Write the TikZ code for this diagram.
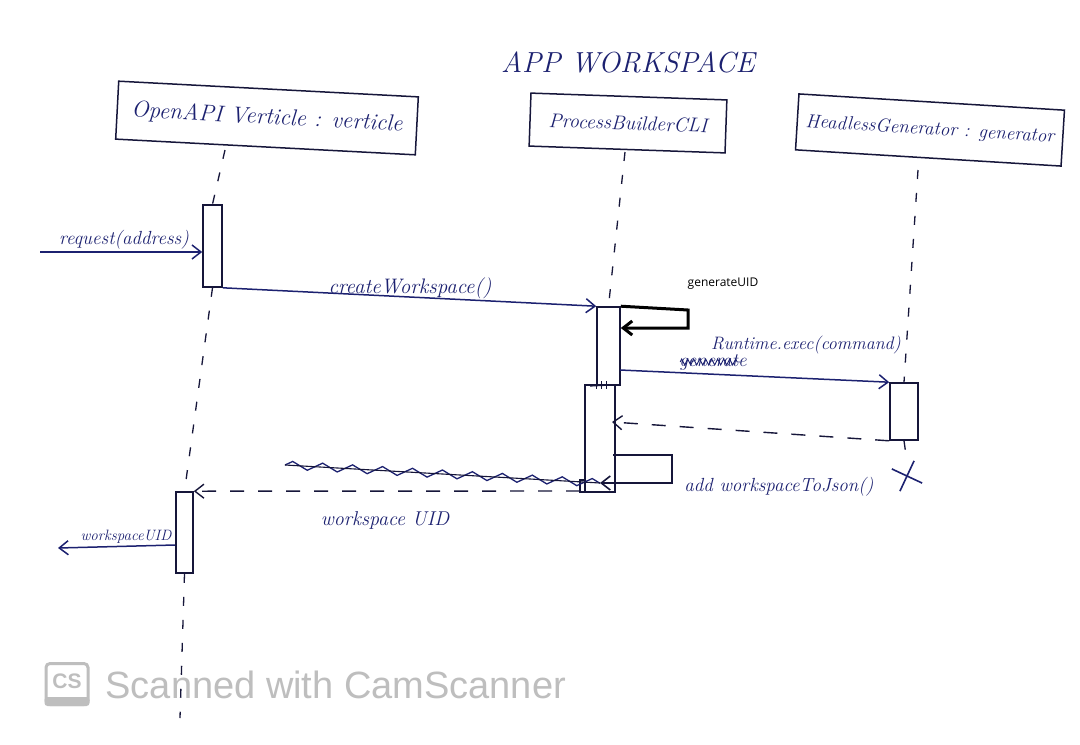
\documentclass[tikz,border=0pt]{standalone}
\usepackage{fontspec}
\newfontfamily\typedfont{Open Sans}
\newfontfamily\markfont{Liberation Sans}
\usetikzlibrary{arrows.meta,decorations.pathmorphing,shapes.misc}

\definecolor{ink}{HTML}{1C2170}
\definecolor{pen}{HTML}{16163A}
\definecolor{wmgrey}{HTML}{BEBEBE}

\tikzset{
  hand/.style={font=\fontsize{20}{22}\selectfont\itshape, text=ink, inner sep=1pt},
  objbox/.style={draw=pen, line width=1.5pt, font=\fontsize{21}{23}\selectfont\itshape, text=ink},
  lifeline/.style={draw=pen, line width=1.3pt, dash pattern=on 9pt off 14pt},
  actbox/.style={draw=pen, line width=1.6pt, fill=white, inner sep=0pt},
  msg/.style={draw=ink, line width=1.5pt, -{Straight Barb[length=9pt,width=14pt]}},
  reply/.style={draw=pen, line width=1.4pt, dash pattern=on 14pt off 14pt, -{Straight Barb[length=9pt,width=14pt]}},
  selfmsg/.style={draw=pen, line width=1.6pt, -{Straight Barb[length=9pt,width=14pt]}},
}

\begin{document}
\begin{tikzpicture}[x=1pt, y=-1pt]

  % -- page --
  \fill[white] (0,0) rectangle (1080,745);
  \useasboundingbox (0,0) rectangle (1080,745);

  % -- Title --
  \node[hand, font=\fontsize{29}{31}\selectfont\itshape] (title) at (628,62) {APP WORKSPACE};

  % -- Objects --
  \node[objbox, minimum width=300pt, minimum height=58pt, rotate=-3, font=\fontsize{23}{25}\selectfont\itshape] (vert) at (267,118) {OpenAPI Verticle : verticle};
  \node[objbox, minimum width=196pt, minimum height=53pt, rotate=-2, font=\fontsize{20}{22}\selectfont\itshape] (cli) at (628,123) {ProcessBuilderCLI};
  \node[objbox, minimum width=266pt, minimum height=56pt, rotate=-3.5, font=\fontsize{19}{21}\selectfont\itshape] (gen) at (930,130) {HeadlessGenerator : generator};

  % -- Activations --
  \node[actbox, minimum width=19pt, minimum height=82pt] (actA) at (212.5,246) {};
  \node[actbox, minimum width=17pt, minimum height=81pt] (actD) at (184.5,532.5) {};
  \node[actbox, minimum width=30pt, minimum height=12pt] (actBt) at (595,486) {};
  \node[actbox, minimum width=30pt, minimum height=107pt] (actBl) at (600,438.5) {};
  \node[actbox, minimum width=23pt, minimum height=78pt] (actB) at (608.5,346) {};
  \node[actbox, minimum width=28pt, minimum height=57pt] (actC) at (904,411.5) {};

  % -- Lifelines --
  \coordinate (vertEnd) at (180,718);
  \coordinate (genEnd) at (907,462);
  \draw[lifeline] (225,150) -- (actA.north);
  \draw[lifeline] (actA.south) -- (actD.north);
  \draw[lifeline] (actD.south) -- (vertEnd);
  \draw[lifeline] (625,152) -- (actB.north);
  \draw[lifeline] (918,170) -- (actC.north);
  \draw[lifeline] (actC.south) -- (genEnd);
  \draw[pen, line width=1.2pt] (590,386) -- (612,385);
  \foreach \tx in {596,601,606}
    \draw[pen, line width=1pt] (\tx,381) -- (\tx,389);

  % -- request(address) --
  \coordinate (reqS) at (40,252);
  \draw[msg] (reqS) -- (actA.west |- reqS);
  \node[hand, font=\fontsize{19}{21}\selectfont\itshape, anchor=south] (reqL) at (124,250) {request(address)};

  % -- createWorkspace() --
  \draw[msg] (actA.south east) -- (actB.north west);
  \node[hand, font=\fontsize{21}{23}\selectfont\itshape] (cwL) at (410,288) {createWorkspace()};

  % -- generateUID (self) --
  \coordinate (gu1) at (688,310);
  \coordinate (gu2) at (688,328);
  \coordinate (guE) at (actB.east |- gu2);
  \draw[selfmsg, draw=black, line width=3pt] (actB.north east) -- (gu1) -- (gu2) -- (guE);
  \node[font=\fontsize{12}{14}\typedfont, text=black] (guL) at (723,284) {generateUID};

  % -- Runtime.exec(command) --
  \coordinate (rtS) at (620,370);
  \draw[msg] (rtS) -- (actC.north west);
  \node[hand, font=\fontsize{18}{20}\selectfont\itshape] (rtL) at (806,345) {Runtime.exec(command)};
  \node[hand, font=\fontsize{19}{21}\selectfont\itshape] (genL) at (713,362) {generate};
  \draw[ink, line width=0.9pt, decorate, decoration={zigzag, segment length=6pt, amplitude=3pt}] ([xshift=2pt]genL.west) -- ([xshift=-8pt]genL.east);

  % -- return from generator --
  \coordinate (rtR) at (612,422);
  \draw[reply] (actC.south west) -- (rtR);

  % -- generator ends --
  \node[cross out, draw=ink, line width=1.6pt, minimum size=22pt, rotate=20] (genX) at (907,476) {};

  % -- add workspaceToJson() (self) --
  \coordinate (aw0) at (613,455);
  \coordinate (aw1) at (672,455);
  \coordinate (aw2) at (672,483);
  \coordinate (awE) at (600,483);
  \draw[selfmsg] (aw0) -- (aw1) -- (aw2) -- (awE);
  \node[hand, font=\fontsize{19}{21}\selectfont\itshape] (awL) at (779,487) {add workspaceToJson()};

  % scribbled out message
  \coordinate (scS) at (285,465);
  \draw[ink, line width=1.3pt, decorate, decoration={zigzag, segment length=30pt, amplitude=4pt}] (scS) -- (awE);
  \draw[pen, line width=1.1pt] (scS) -- (awE);

  % -- workspace UID reply --
  \coordinate (wuS) at (580,491);
  \draw[reply] (wuS) -- (actD.north east);
  \node[hand, font=\fontsize{20}{22}\selectfont\itshape] (wuL) at (385,520) {workspace UID};

  % -- workspaceUID out --
  \coordinate (outE) at (58,548);
  \draw[msg] (actD.west |- 0,545) -- (outE);
  \node[hand, font=\fontsize{15}{17}\selectfont\itshape, anchor=south] (outL) at (126,545) {workspaceUID};

  % -- scanner mark --
  \node[draw=wmgrey, line width=3pt, rounded corners=4pt, minimum width=42pt, minimum height=41pt,
        font=\fontsize{22}{24}\markfont\bfseries, text=wmgrey, inner sep=0pt] (csLogo) at (67,684) {};
  \fill[wmgrey, rounded corners=3pt] (csLogo.south west) rectangle ([yshift=9pt]csLogo.south east);
  \node[font=\fontsize{21}{23}\markfont\bfseries, text=wmgrey] (csTxt) at ([yshift=3pt]csLogo.center) {CS};
  \node[font=\fontsize{38}{40}\markfont, text=wmgrey, anchor=west] (scanTxt) at (102,685) {Scanned with CamScanner};

\end{tikzpicture}
\end{document}
